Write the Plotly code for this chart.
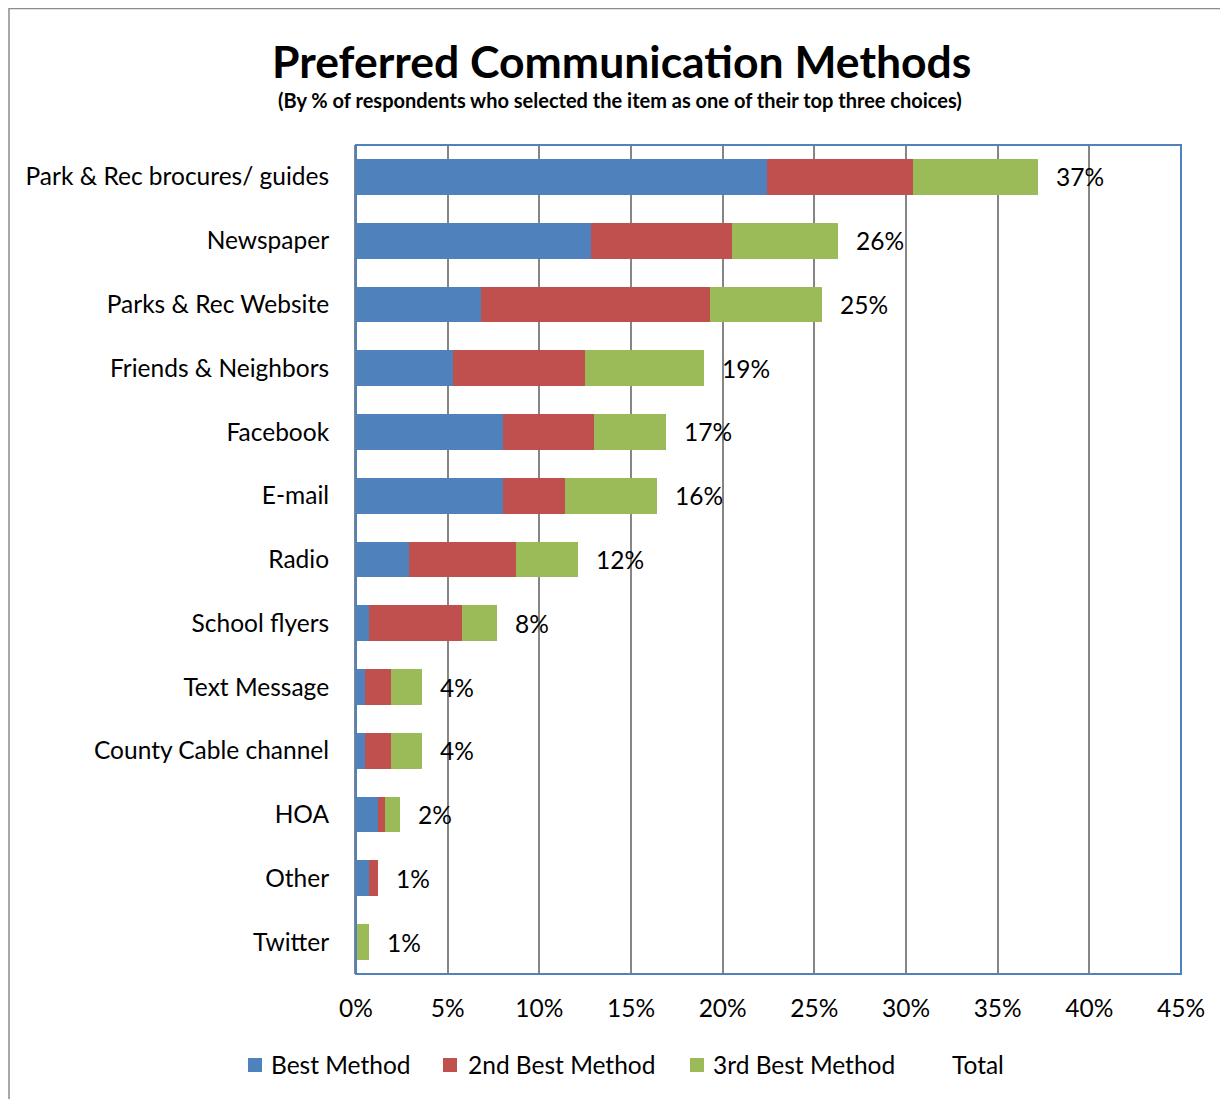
import plotly.graph_objects as go

categories = ["Park & Rec brocures/ guides", "Newspaper", "Parks & Rec Website",
              "Friends & Neighbors", "Facebook", "E-mail", "Radio", "School flyers",
              "Text Message", "County Cable channel", "HOA", "Other", "Twitter"]
best = [22.4, 12.8, 6.8, 5.3, 8.0, 8.0, 2.9, 0.7, 0.5, 0.5, 1.2, 0.7, 0.0]
second = [8.0, 7.7, 12.5, 7.2, 5.0, 3.4, 5.8, 5.1, 1.4, 1.4, 0.4, 0.5, 0.0]
third = [6.8, 5.8, 6.1, 6.5, 3.9, 5.0, 3.4, 1.9, 1.7, 1.7, 0.8, 0.0, 0.7]
total_labels = ["37%", "26%", "25%", "19%", "17%", "16%", "12%", "8%", "4%", "4%", "2%", "1%", "1%"]
x_ticks = [0, 5, 10, 15, 20, 25, 30, 35, 40, 45]
x_tick_labels = ["0%", "5%", "10%", "15%", "20%", "25%", "30%", "35%", "40%", "45%"]
legend_names = ["Best Method", "2nd Best Method", "3rd Best Method", "Total"]
colors = ["#4F81BD", "#C0504D", "#9BBB59", None]

FONT = "Lato"
FS = 24.5
OFF = 8  # page body margin offset
W, H = 1228 - OFF, 1099 - OFF
L, R, T, B = 356 - OFF, 47, 145 - OFF, 125

fig = go.Figure()
for name, vals, col in zip(legend_names[:3], [best, second, third], colors[:3]):
    fig.add_trace(go.Bar(y=categories, x=vals, name=name, orientation="h",
                         marker=dict(color=col, line=dict(width=0)),
                         hoverinfo="skip", showlegend=False))

totals = [b + s + t for b, s, t in zip(best, second, third)]
for cat, tot, lab in zip(categories, totals, total_labels):
    fig.add_annotation(x=tot, y=cat, text=lab, showarrow=False, xanchor="left",
                       xshift=16, font=dict(family=FONT, size=FS, color="#000000"))

pw = W - L - R
ph = H - T - B
def px_x(px):
    return (px - OFF - L) / pw
def px_y(py):
    return (H - B - (py - OFF)) / ph

# title and subtitle
fig.add_annotation(xref="paper", yref="paper", x=px_x(621), y=px_y(60),
                   text="<b>Preferred Communication Methods</b>", showarrow=False,
                   xanchor="center", yanchor="middle",
                   font=dict(family=FONT, size=44.5, color="#000000"))
fig.add_annotation(xref="paper", yref="paper", x=px_x(620), y=px_y(100),
                   text="<b>(By % of respondents who selected the item as one of their top three choices)</b>",
                   showarrow=False, xanchor="center", yanchor="middle",
                   font=dict(family=FONT, size=20, color="#000000"))

# custom legend
leg_sq_x = [248, 443, 690, None]
leg_txt_x = [269, 466, 711, 950]
leg_y = 1064
for name, col, sx, tx in zip(legend_names, colors, leg_sq_x, leg_txt_x):
    if col is not None:
        fig.add_shape(type="rect", xref="paper", yref="paper",
                      x0=px_x(sx), x1=px_x(sx + 14), y0=px_y(leg_y + 8), y1=px_y(leg_y - 6),
                      line=dict(width=0), fillcolor=col)
    fig.add_annotation(xref="paper", yref="paper", x=px_x(tx), y=px_y(leg_y),
                       text=name, showarrow=False, xanchor="left", yanchor="middle",
                       font=dict(family=FONT, size=FS, color="#000000"))

# outer chart border
fig.add_shape(type="rect", xref="paper", yref="paper",
              x0=px_x(9), x1=px_x(1240),
              y0=px_y(1110), y1=px_y(8.5),
              line=dict(color="#8C8C8C", width=1.5), fillcolor="rgba(0,0,0,0)", layer="below")
# plot-area border
fig.add_shape(type="rect", xref="paper", yref="paper", x0=0, x1=1, y0=0, y1=1,
              line=dict(color="#4F81BD", width=2), fillcolor="rgba(0,0,0,0)", layer="above")

fig.update_layout(
    width=W, height=H,
    margin=dict(l=L, r=R, t=T, b=B, autoexpand=False),
    barmode="stack", bargap=0.44,
    plot_bgcolor="white", paper_bgcolor="white",
    font=dict(family=FONT, size=FS, color="#000000"),
    showlegend=False,
    xaxis=dict(range=[0, 45], tickvals=x_ticks, ticktext=x_tick_labels,
               showgrid=True, gridcolor="#868686", gridwidth=2,
               zeroline=False, showline=False, ticks="", ticklen=0,
               ticklabelstandoff=17,
               tickfont=dict(family=FONT, size=FS), fixedrange=True),
    yaxis=dict(categoryorder="array", categoryarray=categories[::-1],
               autorange=False, range=[-0.5, len(categories) - 0.5],
               showgrid=False, zeroline=False, showline=True, linecolor="#868686",
               linewidth=2, ticks="", ticklabelstandoff=20,
               tickfont=dict(family=FONT, size=FS)),
)
fig.write_html("out.html")
